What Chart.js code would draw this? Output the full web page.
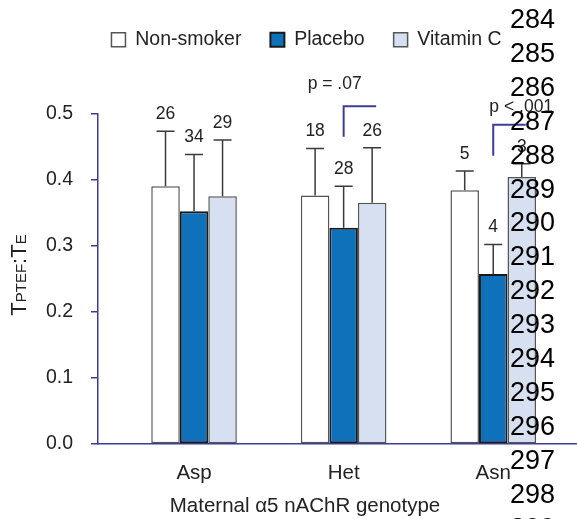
<!DOCTYPE html>
<html>
<head>
<meta charset="utf-8">
<script src="https://cdn.jsdelivr.net/npm/chart.js@4.4.1/dist/chart.umd.min.js"></script>
<style>
  html, body { margin: 0; padding: 0; background: #fff; overflow: hidden }
  #wrap { position: relative; width: 577px; height: 519px }
  #lineNumbers {
    position: absolute; left: 510px; top: 3px;
    font: 27px 'Liberation Sans', Arial, sans-serif; line-height: 33.9px;
    color: #000; white-space: pre; pointer-events: none
  }
</style>
</head>
<body>
<div id="wrap">
  <canvas id="chart" width="577" height="519"></canvas>
  <div id="lineNumbers"></div>
</div>
<script>
// genotype groups
const categories = ['Asp', 'Het', 'Asn']

// mean TPTEF:TE per group
const nonSmoker = [0.390, 0.376, 0.384]
const placebo = [0.352, 0.327, 0.257]
const vitaminC = [0.375, 0.365, 0.404]

// upper error bar (SD)
const nonSmokerSD = [0.083, 0.071, 0.029]
const placeboSD = [0.086, 0.063, 0.045]
const vitaminCSD = [0.085, 0.083, 0.020]

// n above each bar
const nonSmokerN = [26, 18, 5]
const placeboN = [34, 28, 4]
const vitaminCN = [29, 26, 3]

// placebo vs vitamin C comparisons
const pLabels = ['', 'p = .07', 'p < .001']
const bracketTop = [null, 0.511, 0.483]
const bracketBottom = [null, 0.465, 0.436]
const pLabelY = [null, 0.544, 0.509]

const yTicks = [0, 0.1, 0.2, 0.3, 0.4, 0.5]
const lineNumbers = [284, 285, 286, 287, 288, 289, 290, 291, 292, 293, 294, 295, 296, 297, 298, 299]

const navy = '#3d3d98'
const font = "'Liberation Sans', Arial, sans-serif"
Chart.defaults.font.family = font

document.querySelector('#lineNumbers').textContent = lineNumbers.join('\n')

const points = values => values.map((v, i) => ({ x: i, y: v }))

const extras = {
    id: 'extras',
    afterLayout(chart) {
        // legend sits a bit right of centre and well above the plot
        const legend = chart.legend
        legend.left += 18
        legend.right += 18
        const h = legend.height
        legend.top = 1
        legend.bottom = 1 + h
    },
    afterDatasetsDraw(chart) {
        const ctx = chart.ctx
        const y = chart.scales.y
        ctx.save()
        chart.data.datasets.forEach((ds, di) => {
            chart.getDatasetMeta(di).data.forEach((bar, i) => {
                const top = y.getPixelForValue(ds.data[i].y + ds.sd[i])
                ctx.strokeStyle = '#3a3a3a'
                ctx.lineWidth = 1.5
                ctx.beginPath()
                ctx.moveTo(bar.x, bar.y)
                ctx.lineTo(bar.x, top)
                ctx.moveTo(bar.x - 9, top)
                ctx.lineTo(bar.x + 9, top)
                ctx.stroke()
                ctx.fillStyle = '#222'
                ctx.font = `17.5px ${font}`
                ctx.textAlign = 'center'
                ctx.textBaseline = 'middle'
                ctx.fillText(ds.n[i], bar.x, top - 17)
            })
        })

        // significance brackets
        const pBars = chart.getDatasetMeta(1).data
        const vBars = chart.getDatasetMeta(2).data
        const textShift = [0, -9, 28]
        pLabels.forEach((label, i) => {
            if (!label) return
            const x0 = pBars[i].x
            const x1 = vBars[i].x + 4
            const yt = y.getPixelForValue(bracketTop[i])
            ctx.strokeStyle = navy
            ctx.lineWidth = 2
            ctx.beginPath()
            ctx.moveTo(x0, y.getPixelForValue(bracketBottom[i]))
            ctx.lineTo(x0, yt)
            ctx.lineTo(x1, yt)
            ctx.stroke()
            ctx.fillStyle = '#222'
            ctx.font = `17.5px ${font}`
            ctx.textAlign = 'center'
            ctx.textBaseline = 'middle'
            ctx.fillText(label, x0 + textShift[i], y.getPixelForValue(pLabelY[i]))
        })
        ctx.restore()
    },
    afterDraw(chart) {
        const ctx = chart.ctx
        ctx.save()
        ctx.fillStyle = '#222'
        ctx.textBaseline = 'alphabetic'

        // y title with subscripts: T_PTEF : T_E
        const parts = [['T', 22], ['PTEF', 15], [':T', 22], ['E', 15]]
        let total = 0
        parts.forEach(p => { ctx.font = `${p[1]}px ${font}`; total += ctx.measureText(p[0]).width })
        ctx.translate(26, 275)
        ctx.rotate(-Math.PI / 2)
        let cx = -total / 2
        ctx.textAlign = 'left'
        parts.forEach(p => {
            ctx.font = `${p[1]}px ${font}`
            ctx.fillText(p[0], cx, 0)
            cx += ctx.measureText(p[0]).width
        })
        ctx.setTransform(1, 0, 0, 1, 0, 0)

        // x title
        ctx.font = `20.5px ${font}`
        ctx.textAlign = 'center'
        ctx.textBaseline = 'middle'
        ctx.fillText('Maternal \u03b15 nAChR genotype', 305, 506)
        ctx.restore()
    }
}

new Chart(document.querySelector('#chart').getContext('2d'), {
    type: 'bar',
    data: {
        datasets: [{
            label: 'Non-smoker',
            data: points(nonSmoker),
            sd: nonSmokerSD,
            n: nonSmokerN,
            backgroundColor: '#ffffff',
            borderColor: '#555555',
            borderWidth: 1.5
        }, {
            label: 'Placebo',
            data: points(placebo),
            sd: placeboSD,
            n: placeboN,
            backgroundColor: '#0f71b9',
            borderColor: '#1a1a1a',
            borderWidth: 2
        }, {
            label: 'Vitamin C',
            data: points(vitaminC),
            sd: vitaminCSD,
            n: vitaminCN,
            backgroundColor: '#d6e0f0',
            borderColor: '#555555',
            borderWidth: 1.5
        }]
    },
    options: {
        responsive: false,
        animation: false,
        events: [],
        datasets: { bar: { categoryPercentage: 0.572, barPercentage: 1, borderSkipped: false } },
        layout: { padding: { top: 55, left: 0, right: 0, bottom: 0 } },
        scales: {
            x: {
                type: 'linear',
                offset: false,
                min: -0.642,
                max: 2.56,
                grid: { display: false },
                border: { color: navy, width: 1.5 },
                ticks: {
                    padding: 9,
                    color: '#222',
                    font: { size: 20.5 },
                    callback: v => categories[v]
                },
                afterBuildTicks: s => { s.ticks = categories.map((c, i) => ({ value: i })) },
                afterFit: s => { s.height = 75 }
            },
            y: {
                min: 0,
                max: 0.5,
                grid: { drawOnChartArea: false, tickLength: 7, color: navy, lineWidth: 1.5 },
                border: { color: navy, width: 1.5 },
                ticks: {
                    padding: 18,
                    color: '#222',
                    font: { size: 19.5 },
                    callback: v => v.toFixed(1)
                },
                afterBuildTicks: s => { s.ticks = yTicks.map(v => ({ value: v })) },
                afterFit: s => { s.width = 98 }
            }
        },
        plugins: {
            legend: {
                position: 'top',
                labels: { boxWidth: 14, boxHeight: 14, padding: 29, color: '#222', font: { size: 19.5 } }
            },
            tooltip: { enabled: false }
        }
    },
    plugins: [extras]
})
</script>
</body>
</html>
